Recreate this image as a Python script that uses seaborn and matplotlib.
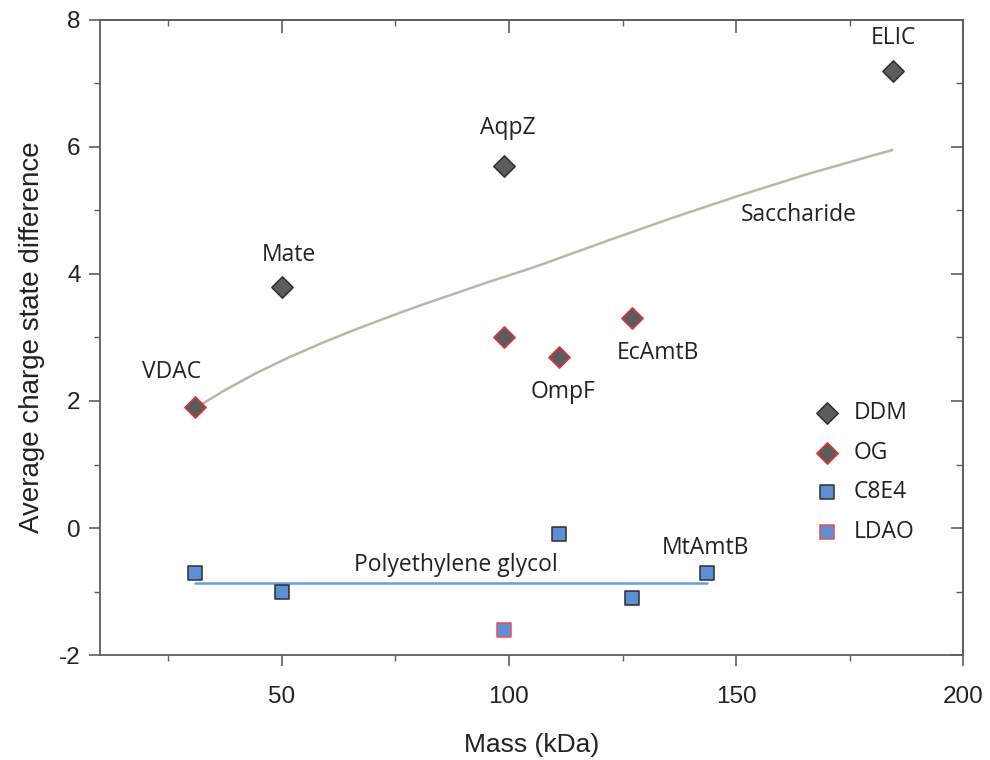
import numpy as np
import pandas as pd
import matplotlib
matplotlib.use("Agg")
import matplotlib.pyplot as plt
import seaborn as sns

# ---------------- data ----------------
ddm_mass = [50, 99, 184.5]
ddm_diff = [3.8, 5.7, 7.2]
og_mass = [31, 99, 111, 127]
og_diff = [1.9, 3.0, 2.7, 3.3]
c8e4_mass = [31, 50, 111, 127, 143.5]
c8e4_diff = [-0.7, -1.0, -0.1, -1.1, -0.7]
ldao_mass = [99]
ldao_diff = [-1.6]

sacch_mass = [31.5, 37.0, 44.4, 51.7, 59.1, 66.4, 73.8, 81.1, 88.5, 95.8,
              103.2, 106.9, 121.6, 136.3, 151.0, 165.7, 180.4, 184.4]
sacch_diff = [1.91, 2.15, 2.44, 2.69, 2.92, 3.13, 3.33, 3.52, 3.70, 3.88,
              4.05, 4.14, 4.52, 4.89, 5.24, 5.57, 5.87, 5.95]
peg_mass = [31, 143.5]
peg_diff = [-0.87, -0.87]

protein_names = ["VDAC", "Mate", "AqpZ", "ELIC", "OmpF", "EcAmtB", "MtAmtB",
                 "Saccharide", "Polyethylene glycol"]
name_x = [25.7, 51.5, 99.8, 184.7, 111.9, 132.7, 143.3, 163.8, 88.3]
name_y = [2.46, 4.30, 6.30, 7.72, 2.14, 2.76, -0.31, 4.93, -0.58]

xticks = [50, 100, 150, 200]
yticks = [-2, 0, 2, 4, 6, 8]

# ---------------- style ----------------
sns.set_style("ticks")
plt.rcParams["font.family"] = ["Liberation Sans", "DejaVu Sans"]
plt.rcParams["axes.unicode_minus"] = False
ann_font = ["Open Sans", "DejaVu Sans"]
tick_font = ["Liberation Sans", "DejaVu Sans"]

spine_col = "#5e5e5e"
fig = plt.figure(figsize=(9.9, 7.6), dpi=100)
ax = fig.add_axes([0.101, 0.138, 0.872, 0.836])

# lines
sns.lineplot(x=sacch_mass, y=sacch_diff, color="#b7b8aa", lw=1.8, ax=ax,
             sort=True, legend=False, zorder=2)
sns.lineplot(x=peg_mass, y=peg_diff, color="#6a9be0", lw=1.8, ax=ax,
             legend=False, zorder=2)

grey = "#5b5c5e"
blue = "#5d8fd4"
sns.scatterplot(x=ddm_mass, y=ddm_diff, marker="D", s=118, color=grey,
                edgecolor="#2e2e2e", linewidth=1.1, label="DDM", ax=ax, zorder=3)
sns.scatterplot(x=og_mass, y=og_diff, marker="D", s=118, color=grey,
                edgecolor="#e8303a", linewidth=1.1, label="OG", ax=ax, zorder=3)
sns.scatterplot(x=c8e4_mass, y=c8e4_diff, marker="s", s=100, color=blue,
                edgecolor="#2e2e2e", linewidth=1.1, label="C8E4", ax=ax, zorder=3)
sns.scatterplot(x=ldao_mass, y=ldao_diff, marker="s", s=100, color=blue,
                edgecolor="#ee4a58", linewidth=1.1, label="LDAO", ax=ax, zorder=3)

for name, x, y in zip(protein_names, name_x, name_y):
    ax.text(x, y, name, ha="center", va="center", fontsize=16.5,
            family=ann_font, color="#222222")

ax.set_xlim(10, 200)
ax.set_ylim(-2, 8)
ax.set_xticks(xticks)
ax.set_xticks([25, 75, 125, 175], minor=True)
ax.set_yticks(yticks)
ax.set_yticks([-1, 1, 3, 5, 7], minor=True)
for lab in ax.get_xticklabels() + ax.get_yticklabels():
    lab.set_family(tick_font)
    lab.set_fontsize(17.5)
    lab.set_color("#222222")
ax.tick_params(which="major", direction="out", length=8, width=1.2,
               color=spine_col, pad=6)
ax.tick_params(which="minor", direction="out", length=4, width=1.0,
               color=spine_col)
ax.tick_params(axis="x", pad=14)

for s in ax.spines.values():
    s.set_color(spine_col)
    s.set_linewidth(1.3)
    s.set_visible(True)

# inward ticks on top and right
top = ax.secondary_xaxis("top")
top.set_xticks(xticks)
top.set_xticks([25, 75, 125, 175], minor=True)
top.tick_params(which="major", direction="in", length=9, width=1.2, color=spine_col,
                labeltop=False)
top.tick_params(which="minor", direction="in", length=4, width=1.0, color=spine_col)
top.spines["top"].set_color(spine_col)
top.spines["top"].set_linewidth(1.3)
right = ax.secondary_yaxis("right")
right.set_yticks(yticks)
right.set_yticks([-1, 1, 3, 5, 7], minor=True)
right.tick_params(which="major", direction="in", length=9, width=1.2, color=spine_col,
                  labelright=False)
right.tick_params(which="minor", direction="in", length=5, width=1.0, color=spine_col)
right.spines["right"].set_color(spine_col)
right.spines["right"].set_linewidth(1.3)

ax.set_xlabel("Mass (kDa)", fontsize=19, color="#222222", labelpad=18)
ax.set_ylabel("Average charge state difference", fontsize=20, color="#222222",
              labelpad=10)

handles, labels = ax.get_legend_handles_labels()
leg = ax.legend(handles, labels, loc="upper left", bbox_to_anchor=(0.792, 0.432),
                frameon=False, labelspacing=0.68, handletextpad=0.15,
                prop={"family": ann_font, "size": 16.5})
for t in leg.get_texts():
    t.set_color("#222222")

fig.savefig("out.png", dpi=100)
